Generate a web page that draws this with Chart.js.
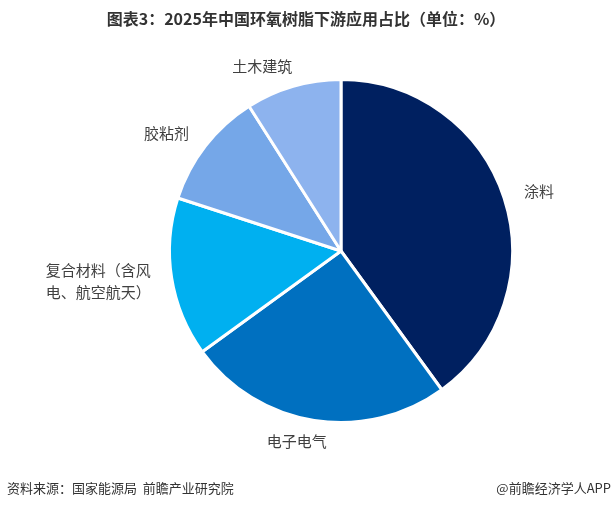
<!DOCTYPE html>
<html>
<head>
<meta charset="utf-8">
<script src="https://cdn.jsdelivr.net/npm/chart.js@4.4.1/dist/chart.umd.min.js"></script>
<style>
  html, body { margin: 0; padding: 0; background: #fff; }
  #wrap { width: 613px; height: 508px; position: relative; }
</style>
</head>
<body>
<div id="wrap"><canvas id="pieChart" width="613" height="508"></canvas></div>
<script>
// data
const categories = ["涂料", "电子电气", "复合材料（含风电、航空航天）", "胶粘剂", "土木建筑"];
const labelLines = [["涂料"], ["电子电气"], ["复合材料（含风", "电、航空航天）"], ["胶粘剂"], ["土木建筑"]];
const shares = [40, 25, 15, 11, 9];
const sliceColors = ["#002060", "#0070C0", "#00B0F0", "#75A7E8", "#8DB3EE"];

const titleText = "图表3：2025年中国环氧树脂下游应用占比（单位：%）";
const sourceText = "资料来源：国家能源局  前瞻产业研究院";
const brandText = "@前瞻经济学人APP";

const FONT = '"Noto Sans CJK SC", "Noto Sans", sans-serif';

// title, footer and outside labels
const textPlugin = {
  id: "textPlugin",
  afterDraw(chart) {
    const ctx = chart.ctx;
    ctx.save();
    ctx.fillStyle = "#333";
    ctx.font = "bold 16px " + FONT;
    ctx.textAlign = "center";
    ctx.textBaseline = "middle";
    ctx.fillText(titleText, 306, 19);

    ctx.font = "13px " + FONT;
    ctx.textAlign = "left";
    ctx.fillText(sourceText, 7, 488);
    ctx.textAlign = "right";
    ctx.fillText(brandText, 611, 488);

    // slice labels, outside end
    ctx.font = "15px " + FONT;
    ctx.fillStyle = "#404040";
    const meta = chart.getDatasetMeta(0);
    meta.data.forEach((arc, i) => {
      const mid = (arc.startAngle + arc.endAngle) / 2;
      const lines = labelLines[i];
      const w = Math.max(...lines.map(l => ctx.measureText(l).width));
      const lh = 22;
      const h = lines.length * lh;
      const d = arc.outerRadius + 21;
      const c = Math.cos(mid);
      const shift = Math.sign(c) * Math.min(1, Math.abs(c) * 3) * w / 2;
      const cx = arc.x + c * d + shift;
      const cy = arc.y + Math.sin(mid) * d;
      ctx.textAlign = "left";
      lines.forEach((l, k) => {
        ctx.fillText(l, cx - w / 2, cy - h / 2 + lh / 2 + k * lh);
      });
    });
    ctx.restore();
  }
};

new Chart(document.getElementById("pieChart"), {
  type: "pie",
  data: {
    labels: categories,
    datasets: [{
      data: shares,
      backgroundColor: sliceColors,
      borderColor: "#ffffff",
      borderWidth: 3
    }]
  },
  options: {
    responsive: false,
    animation: false,
    layout: { padding: { left: 167, top: 78, right: 98, bottom: 84 } },
    plugins: {
      legend: { display: false },
      tooltip: { enabled: false },
      title: { display: false }
    }
  },
  plugins: [textPlugin]
});
</script>
</body>
</html>
